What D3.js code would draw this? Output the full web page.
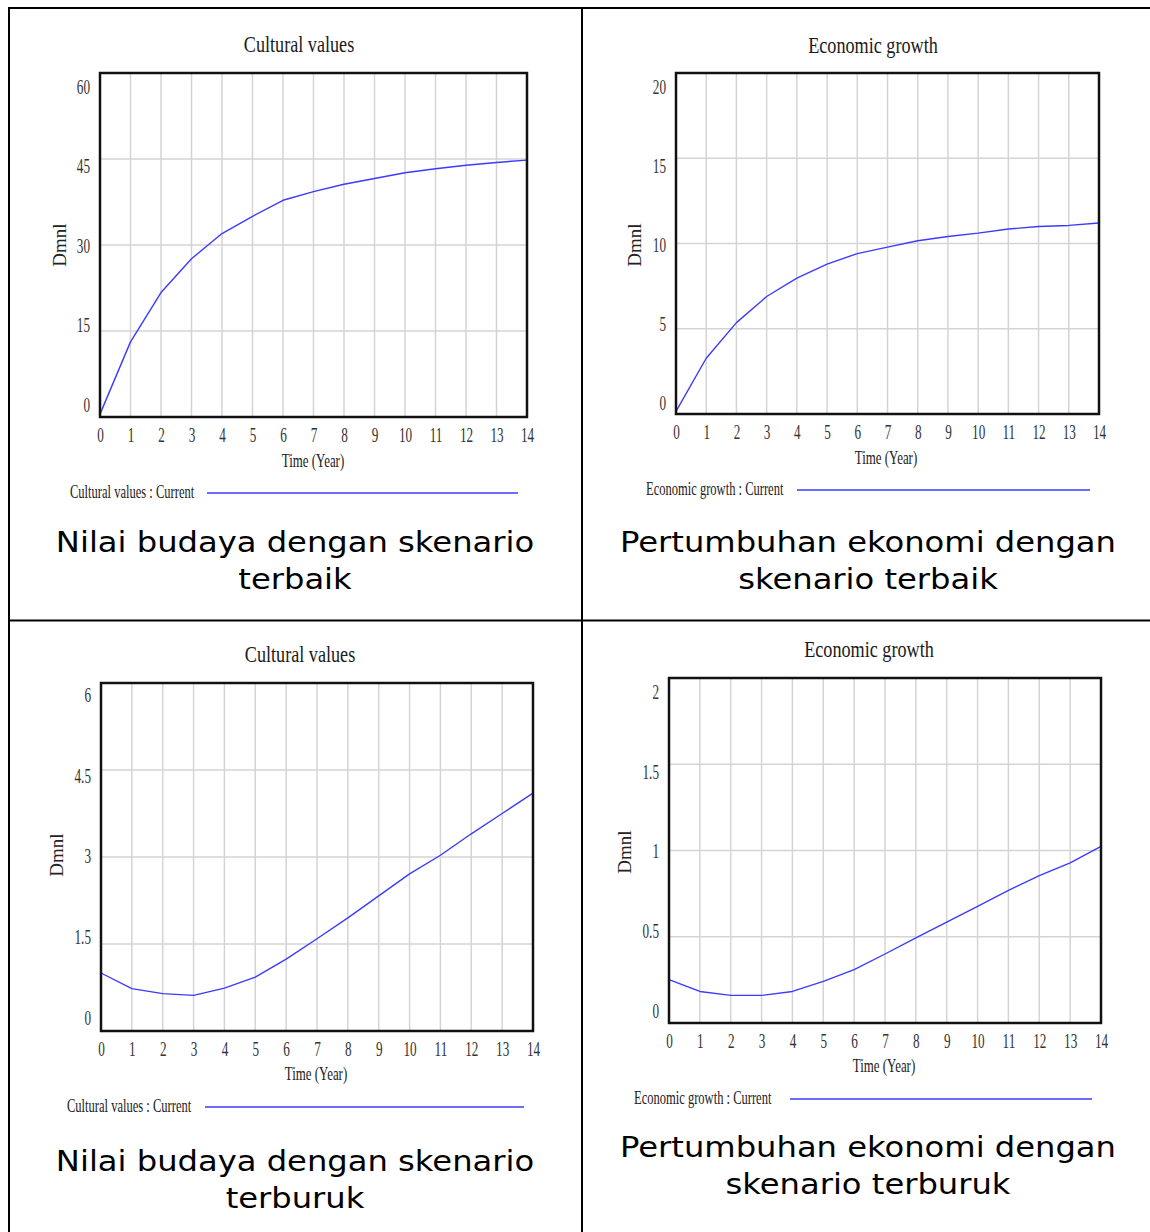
<!DOCTYPE html>
<html><head><meta charset="utf-8">
<script src="https://cdn.jsdelivr.net/npm/d3@7"></script>
<style>body{margin:0;background:#fff} svg{display:block}</style>
</head><body>
<script>
// ---- data ----
const years = [0,1,2,3,4,5,6,7,8,9,10,11,12,13,14];
const culturalBest = [0.5,13.1,21.7,27.6,32.0,35.0,37.8,39.3,40.6,41.6,42.6,43.3,43.9,44.4,44.8];
const economicBest = [0.15,3.27,5.36,6.89,7.97,8.79,9.41,9.79,10.16,10.41,10.61,10.85,11.0,11.06,11.2];
const culturalWorst = [1.0,0.73,0.645,0.615,0.74,0.93,1.24,1.59,1.95,2.33,2.71,3.03,3.40,3.75,4.10];
const economicWorst = [0.251,0.183,0.16,0.16,0.183,0.241,0.309,0.40,0.493,0.585,0.676,0.769,0.854,0.928,1.024];
const culturalBestTicks = [0,15,30,45,60];
const economicBestTicks = [0,5,10,15,20];
const culturalWorstTicks = [0,1.5,3,4.5,6];
const economicWorstTicks = [0,0.5,1,1.5,2];
const xTickLabels = ["0","1","2","3","4","5","6","7","8","9","10","11","12","13","14"];
const titles = ["Cultural values","Economic growth","Cultural values","Economic growth"];
const legends = ["Cultural values : Current","Economic growth : Current","Cultural values : Current","Economic growth : Current"];
const captions = [["Nilai budaya dengan skenario","terbaik"],["Pertumbuhan ekonomi dengan","skenario terbaik"],
                  ["Nilai budaya dengan skenario","terburuk"],["Pertumbuhan ekonomi dengan","skenario terburuk"]];
const yLabel = "Dmnl";
const xLabel = "Time (Year)";

// ---- layout ----
const layout = [
  {x0:100,x1:527,y0:73,y1:417, lab0:405,labTop:87, tx:299,ty:44, xlx:313,xly:461, dx:66,dy:245,
   ly:493,ltx:70,lx0:207,lx1:518, cx:295,cy:[542,579]},
  {x0:676,x1:1099,y0:73,y1:414, lab0:403,labTop:87, tx:873,ty:45, xlx:886,xly:458, dx:641,dy:245,
   ly:490,ltx:646,lx0:797,lx1:1090, cx:868,cy:[542,579]},
  {x0:101,x1:533,y0:683,y1:1031, lab0:1018,labTop:695, tx:300,ty:654, xlx:316,xly:1074, dx:63,dy:855,
   ly:1107,ltx:67,lx0:205,lx1:524, cx:295,cy:[1161,1198]},
  {x0:669,x1:1101,y0:678,y1:1023, lab0:1011,labTop:692, tx:869,ty:649, xlx:884,xly:1066, dx:631,dy:852,
   ly:1099,ltx:634,lx0:790,lx1:1092, cx:868,cy:[1147,1184]}
];
const series = [culturalBest, economicBest, culturalWorst, economicWorst];
const ticks = [culturalBestTicks, economicBestTicks, culturalWorstTicks, economicWorstTicks];

const SERIF = "'Liberation Serif','Times New Roman',serif";
const svg = d3.select("body").append("svg").attr("width",1150).attr("height",1232);

// table borders
const border = svg.append("g").attr("stroke","#000").attr("stroke-width",2);
border.append("line").attr("x1",8).attr("x2",1150).attr("y1",8).attr("y2",8);
border.append("line").attr("x1",9).attr("x2",9).attr("y1",7).attr("y2",1232);
border.append("line").attr("x1",582).attr("x2",582).attr("y1",7).attr("y2",1232);
border.append("line").attr("x1",8).attr("x2",1150).attr("y1",620.5).attr("y2",620.5);

function condText(g, x, y, str, size, anchor, sx, fill){
  g.append("text")
    .attr("transform",`translate(${x},${y}) scale(${sx},1)`)
    .attr("text-anchor",anchor)
    .attr("font-family",SERIF).attr("font-size",size)
    .attr("fill",fill||"#222")
    .text(str);
}

layout.forEach((L,i)=>{
  const g = svg.append("g");
  const tk = ticks[i];
  const ymax = tk[tk.length-1];
  const x = d3.scaleLinear().domain([years[0],years[years.length-1]]).range([L.x0,L.x1]);
  const y = d3.scaleLinear().domain([0,ymax]).range([L.y1,L.y0]);
  const yLab = d3.scaleLinear().domain([0,ymax]).range([L.lab0,L.labTop]);

  // gridlines
  g.append("g").selectAll("line.v").data(years).join("line")
    .attr("x1",d=>x(d)).attr("x2",d=>x(d)).attr("y1",L.y0).attr("y2",L.y1)
    .attr("stroke","#d4d4d4").attr("stroke-width",1.5);
  g.append("g").selectAll("line.h").data(tk).join("line")
    .attr("x1",L.x0).attr("x2",L.x1).attr("y1",d=>y(d)).attr("y2",d=>y(d))
    .attr("stroke","#d4d4d4").attr("stroke-width",1.5);

  // series line
  g.append("path").datum(years.map((t,k)=>[t,series[i][k]]))
    .attr("d",d3.line().x(d=>x(d[0])).y(d=>y(d[1])))
    .attr("fill","none").attr("stroke","#3b3bff").attr("stroke-width",1.4)
    .attr("stroke-linejoin","round");

  // frame
  g.append("rect").attr("x",L.x0).attr("y",L.y0).attr("width",L.x1-L.x0).attr("height",L.y1-L.y0)
    .attr("fill","none").attr("stroke","#111").attr("stroke-width",2.5);

  // x axis labels
  const xa = g.append("g").attr("transform",`translate(0,${L.y1})`)
    .call(d3.axisBottom(x).tickValues(years).tickFormat((d,k)=>xTickLabels[k]).tickSize(0).tickPadding(11));
  xa.select(".domain").remove();
  xa.selectAll("text").attr("font-family",SERIF).attr("font-size",20).attr("fill","#333")
    .attr("transform","scale(0.66,1)");

  // y axis labels
  const ya = g.append("g").attr("transform",`translate(${L.x0-10},0)`)
    .call(d3.axisLeft(yLab).tickValues(tk).tickFormat(d=>String(d)).tickSize(0).tickPadding(0));
  ya.select(".domain").remove();
  ya.selectAll("text").attr("font-family",SERIF).attr("font-size",20).attr("fill","#333")
    .attr("transform","scale(0.66,1)");

  // title
  condText(g, L.tx, L.ty+8, titles[i], 23, "middle", 0.79, "#1a1a1a");
  // x label
  condText(g, L.xlx, L.xly+6, xLabel, 19, "middle", 0.68, "#222");
  // y label (rotated)
  g.append("text").attr("transform",`translate(${L.dx},${L.dy}) rotate(-90)`)
    .attr("text-anchor","middle").attr("font-family",SERIF).attr("font-size",19).attr("fill","#222")
    .text(yLabel);
  // legend
  condText(g, L.ltx, L.ly+5, legends[i], 19, "start", 0.66, "#222");
  g.append("line").attr("x1",L.lx0).attr("x2",L.lx1).attr("y1",L.ly).attr("y2",L.ly)
    .attr("stroke","#3b3bff").attr("stroke-width",1.6);

  // caption
  captions[i].forEach((c,k)=>{
    g.append("text").attr("transform",`translate(${L.cx},${L.cy[k]+10}) scale(1.15,1)`)
      .attr("text-anchor","middle")
      .attr("font-family","'DejaVu Sans',Verdana,sans-serif").attr("font-size",28).attr("fill","#000")
      .text(c);
  });
});
</script>
</body></html>
